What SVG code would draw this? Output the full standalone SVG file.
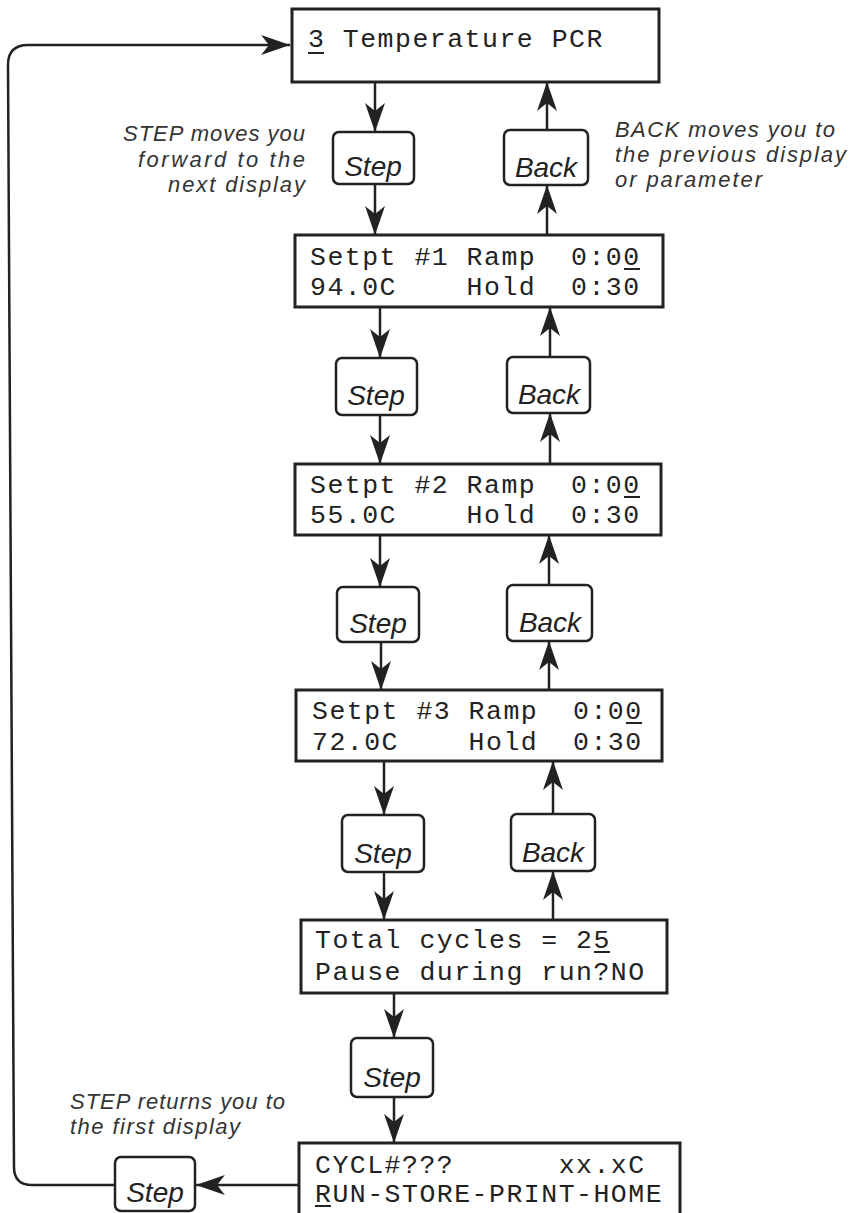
<svg xmlns="http://www.w3.org/2000/svg" width="851" height="1213" viewBox="0 0 851 1213">
<style>
.disp{fill:#fff;stroke:#222;stroke-width:3}
.key{fill:#fff;stroke:#222;stroke-width:2.5}
.mono{font-family:"Liberation Mono",monospace;font-size:26.5px;letter-spacing:1.5px;fill:#222}
.keyt{font-family:"Liberation Sans",Arial,sans-serif;font-style:italic;font-size:28px;fill:#222;text-anchor:middle}
.note{font-family:"Liberation Sans",Arial,sans-serif;font-style:italic;font-size:22px;fill:#333}
.ul{stroke:#222;stroke-width:2}
.con{fill:none;stroke:#222;stroke-width:2.5}
</style>
<defs>
<marker id="ah" markerUnits="userSpaceOnUse" markerWidth="30" markerHeight="20" viewBox="0 0 26 18" refX="26" refY="9" orient="auto">
<path d="M0,0 L26,9 L0,18 L7,9 Z" fill="#222"/>
</marker>
</defs>
<rect width="851" height="1213" fill="#fff"/>

<g id="connectors">
<path class="con" d="M375,82 V132" marker-end="url(#ah)"/>
<path class="con" d="M375,184 V235" marker-end="url(#ah)"/>
<path class="con" d="M380,307 V358" marker-end="url(#ah)"/>
<path class="con" d="M380,415 V464" marker-end="url(#ah)"/>
<path class="con" d="M380,535 V587" marker-end="url(#ah)"/>
<path class="con" d="M381,642 V690" marker-end="url(#ah)"/>
<path class="con" d="M384,761 V815" marker-end="url(#ah)"/>
<path class="con" d="M384,872 V920" marker-end="url(#ah)"/>
<path class="con" d="M394,993 V1038" marker-end="url(#ah)"/>
<path class="con" d="M394,1097 V1143" marker-end="url(#ah)"/>
<path class="con" d="M547,130 V82" marker-end="url(#ah)"/>
<path class="con" d="M547,235 V185" marker-end="url(#ah)"/>
<path class="con" d="M550,357 V307" marker-end="url(#ah)"/>
<path class="con" d="M550,464 V413" marker-end="url(#ah)"/>
<path class="con" d="M549,585 V535" marker-end="url(#ah)"/>
<path class="con" d="M549,690 V641" marker-end="url(#ah)"/>
<path class="con" d="M553,814 V761" marker-end="url(#ah)"/>
<path class="con" d="M553,920 V871" marker-end="url(#ah)"/>
<path class="con" d="M299,1185 H196" marker-end="url(#ah)"/>
<path class="con" d="M115,1185 H32 Q14,1185 14,1167 L8,65 Q8,45 28,45 H290" marker-end="url(#ah)"/>
</g>

<g id="title">
<rect class="disp" x="292" y="9" width="367" height="73"/>
<text class="mono" x="308" y="47">3 Temperature PCR</text>
<line class="ul" x1="308" y1="53" x2="324" y2="53"/>
</g>

<g id="setpt1">
<rect class="disp" x="295" y="235" width="368" height="72"/>
<text class="mono" x="310" y="265" xml:space="preserve">Setpt #1 Ramp  0:00</text>
<text class="mono" x="310" y="295" xml:space="preserve">94.0C    Hold  0:30</text>
<line class="ul" x1="624" y1="269" x2="640" y2="269"/>
</g>

<g id="setpt2">
<rect class="disp" x="295" y="464" width="366" height="71"/>
<text class="mono" x="310" y="493" xml:space="preserve">Setpt #2 Ramp  0:00</text>
<text class="mono" x="310" y="523" xml:space="preserve">55.0C    Hold  0:30</text>
<line class="ul" x1="624" y1="497" x2="640" y2="497"/>
</g>

<g id="setpt3">
<rect class="disp" x="296" y="690" width="366" height="71"/>
<text class="mono" x="312" y="719" xml:space="preserve">Setpt #3 Ramp  0:00</text>
<text class="mono" x="312" y="750" xml:space="preserve">72.0C    Hold  0:30</text>
<line class="ul" x1="626" y1="723" x2="642" y2="723"/>
</g>

<g id="cycles">
<rect class="disp" x="301" y="920" width="366" height="73"/>
<text class="mono" x="315" y="948" xml:space="preserve">Total cycles = 25</text>
<text class="mono" x="315" y="980" xml:space="preserve">Pause during run?NO</text>
<line class="ul" x1="594" y1="952" x2="610" y2="952"/>
</g>

<g id="run">
<rect class="disp" x="299" y="1143" width="381" height="80"/>
<text class="mono" x="315" y="1173" xml:space="preserve">CYCL#???      xx.xC</text>
<text class="mono" x="315" y="1202">RUN-STORE-PRINT-HOME</text>
<line class="ul" x1="315" y1="1206" x2="331" y2="1206"/>
</g>

<g id="step1"><rect class="key" x="333" y="132" width="81" height="52" rx="6"/><text class="keyt" x="373" y="176">Step</text></g>
<g id="step2"><rect class="key" x="336" y="358" width="81" height="57" rx="6"/><text class="keyt" x="376" y="405">Step</text></g>
<g id="step3"><rect class="key" x="337" y="587" width="82" height="55" rx="6"/><text class="keyt" x="378" y="633">Step</text></g>
<g id="step4"><rect class="key" x="342" y="815" width="82" height="57" rx="6"/><text class="keyt" x="383" y="863">Step</text></g>
<g id="step5"><rect class="key" x="351" y="1038" width="82" height="59" rx="6"/><text class="keyt" x="392" y="1087">Step</text></g>
<g id="step6"><rect class="key" x="115" y="1157" width="80" height="54" rx="6"/><text class="keyt" x="155" y="1202">Step</text></g>

<g id="back1"><rect class="key" x="504" y="130" width="84" height="55" rx="6"/><text class="keyt" x="546" y="177">Back</text></g>
<g id="back2"><rect class="key" x="507" y="357" width="83" height="56" rx="6"/><text class="keyt" x="549" y="404">Back</text></g>
<g id="back3"><rect class="key" x="507" y="585" width="85" height="56" rx="6"/><text class="keyt" x="550" y="632">Back</text></g>
<g id="back4"><rect class="key" x="511" y="814" width="84" height="57" rx="6"/><text class="keyt" x="553" y="862">Back</text></g>

<g id="note-step">
<text class="note" text-anchor="end" x="305" y="141" textLength="182">STEP moves you</text>
<text class="note" text-anchor="end" x="305" y="167" textLength="167">forward to the</text>
<text class="note" text-anchor="end" x="305" y="192" textLength="137">next display</text>
</g>
<g id="note-back">
<text class="note" x="615" y="137" textLength="220">BACK moves you to</text>
<text class="note" x="615" y="162" textLength="231">the previous display</text>
<text class="note" x="615" y="187" textLength="147">or parameter</text>
</g>
<g id="note-return">
<text class="note" x="70" y="1109" textLength="215">STEP returns you to</text>
<text class="note" x="70" y="1134" textLength="170">the first display</text>
</g>
</svg>
